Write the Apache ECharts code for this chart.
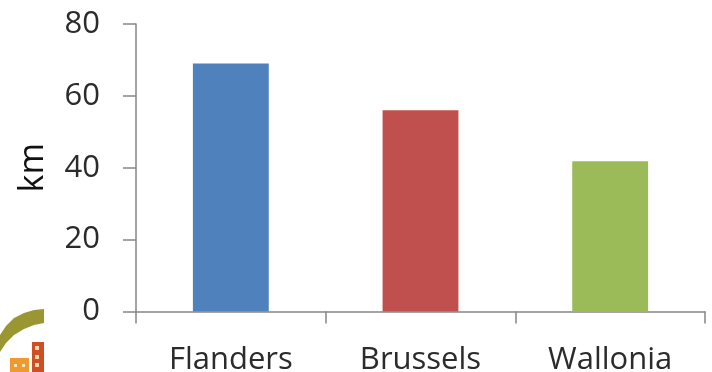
<!DOCTYPE html>
<html>
<head>
<meta charset="utf-8">
<style>html,body{margin:0;padding:0;background:#fff}#chart{width:712px;height:372px}</style>
<script src="https://cdn.jsdelivr.net/npm/echarts@6/dist/echarts.min.js"></script>
</head>
<body>
<div id="chart"></div>
<script>
const regions = ['Flanders', 'Brussels', 'Wallonia'];
const lengthKm = [69, 56, 41.8];
const barColors = ['#4f81bd', '#c0504d', '#9bbb59'];
const axisColor = '#868686';
const textColor = '#2b2b2b';
const fontName = 'Open Sans';

const chart = echarts.init(document.getElementById('chart'), null, {renderer: 'canvas'});
chart.setOption({
  animation: false,
  backgroundColor: '#ffffff',
  grid: {left: 136, right: 7, top: 24, bottom: 60.5, containLabel: false, outerBoundsMode: 'none'},
  xAxis: {
    type: 'category',
    data: regions,
    axisLine: {lineStyle: {color: axisColor, width: 1.5}},
    axisTick: {show: true, length: 12, inside: false, lineStyle: {color: axisColor, width: 1.5}},
    axisLabel: {color: textColor, fontFamily: fontName, fontSize: 31, margin: 33}
  },
  yAxis: {
    type: 'value',
    min: 0,
    max: 80,
    interval: 20,
    name: 'km',
    nameLocation: 'middle',
    nameGap: 86,
    nameRotate: 90,
    nameTextStyle: {color: '#111', fontFamily: fontName, fontSize: 34},
    splitLine: {show: false},
    axisLine: {show: true, lineStyle: {color: axisColor, width: 1.5}},
    axisTick: {show: true, length: 13, lineStyle: {color: axisColor, width: 1.5}},
    axisLabel: {color: textColor, fontFamily: fontName, fontSize: 31, margin: 36}
  },
  series: [{
    type: 'bar',
    barWidth: '40%',
    data: lengthKm.map((v, i) => ({value: v, itemStyle: {color: barColors[i]}}))
  }],
  // Corner emblem: olive arc above two small buildings
  graphic: [
    {type: 'polygon', shape: {points: [[0, 335], [6, 326], [14, 318], [24, 313], [34, 310], [44, 309], [44, 323], [34, 325], [24, 329], [14, 335], [6, 343], [0, 352]]}, style: {fill: '#9a9632'}},
    {type: 'rect', shape: {x: 10, y: 358, width: 19, height: 14}, style: {fill: '#ee9a2e'}},
    {type: 'rect', shape: {x: 32, y: 342, width: 12, height: 30}, style: {fill: '#cf4f25'}},
    {type: 'rect', shape: {x: 35, y: 346, width: 4, height: 4}, style: {fill: '#f6d9b0'}},
    {type: 'rect', shape: {x: 35, y: 355, width: 4, height: 4}, style: {fill: '#f6d9b0'}},
    {type: 'rect', shape: {x: 35, y: 363, width: 4, height: 4}, style: {fill: '#f6d9b0'}},
    {type: 'rect', shape: {x: 14, y: 364, width: 3, height: 3}, style: {fill: '#fbe3b5'}},
    {type: 'rect', shape: {x: 22, y: 364, width: 3, height: 3}, style: {fill: '#fbe3b5'}}
  ]
});
</script>
</body>
</html>
